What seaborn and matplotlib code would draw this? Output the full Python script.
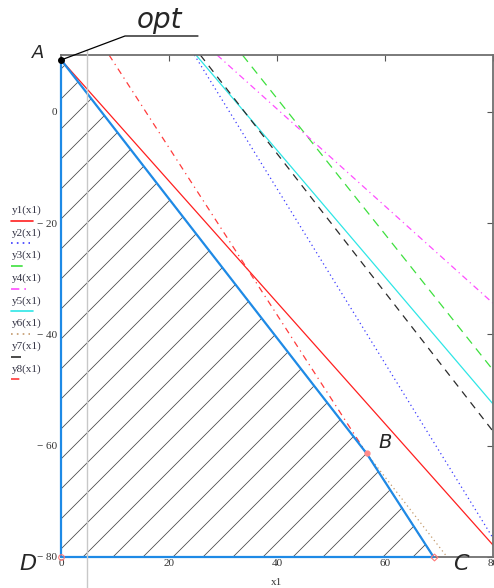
import numpy as np
import pandas as pd
import matplotlib
matplotlib.use("Agg")
import matplotlib.pyplot as plt
from matplotlib.lines import Line2D
from matplotlib.patches import Polygon
import seaborn as sns

# ===============================
# DATA
# ===============================
names = ["y1(x1)", "y2(x1)", "y3(x1)", "y4(x1)",
         "y5(x1)", "y6(x1)", "y7(x1)", "y8(x1)"]
x_start = [0.0, 24.7, 33.6, 28.9, 25.0, 0.0, 25.8, 8.9]
y_start = [9.35, 10.2, 10.2, 10.2, 10.2, 9.35, 10.2, 10.2]
x_end = [80.0, 80.0, 80.0, 80.0, 80.0, 71.5, 80.0, 69.0]
y_end = [-77.85, -76.6, -46.4, -34.4, -52.5, -80.0, -57.4, -80.0]

# feasible region A-B-C-D
region_x = [0.0, 56.6, 69.0, 0.0]
region_y = [9.35, -61.4, -80.0, -80.0]
region_labels = ["A", "B", "C", "D"]

x_ticks = [0, 20, 40, 60, 80]
y_ticks = [0, -20, -40, -60, -80]

# ===============================
# STYLE
# ===============================
colors = ["#ff1f1f", "#3a3aff", "#3ee03e", "#ff4dff",
          "#2ee6e6", "#c49a6c", "#2b2b2b", "#ff3b3b"]
dashes = ["", (1, 2.5), (7, 5), (5, 3, 1, 3),
          "", (1, 2.5), (6, 5), (5, 3.5, 1, 3.5)]
sample_len = [22, 19, 15, 16, 22, 19, 15, 14]
BLUE = "#1e8ae6"
W, H = 494, 588


def fx(px):
    return px / W


def fy(py):
    return 1 - py / H


sns.set_style("white")
plt.rcParams["font.family"] = ["Liberation Serif", "DejaVu Serif"]

fig = plt.figure(figsize=(W / 100, H / 100), dpi=100)
ax = fig.add_axes([fx(61), 31 / H, 432 / W, 502 / H])

df = pd.DataFrame({
    "x1": [v for pair in zip(x_start, x_end) for v in pair],
    "y": [v for pair in zip(y_start, y_end) for v in pair],
    "line": [n for n in names for _ in range(2)],
})

sns.lineplot(data=df, x="x1", y="y", hue="line", style="line",
             palette=dict(zip(names, colors)), dashes=dict(zip(names, dashes)),
             estimator=None, sort=False, legend=False, linewidth=0.9, ax=ax)

ax.set_xlim(0, 80)
ax.set_ylim(-80, 10.2)

# ===============================
# Hatched feasible region
# ===============================
poly = Polygon(np.column_stack([region_x, region_y]), closed=True,
               facecolor="none", edgecolor="none")
ax.add_patch(poly)
sx, sy = 432 / 80, 502 / 90.2
step = 30 / sx
for x0 in np.arange(4.07 - 20 * step, 80, step):
    ln, = ax.plot([x0, x0 + 120], [-80, -80 + 120 * sx / sy],
                  color="#444444", lw=0.55, zorder=3)
    ln.set_clip_path(poly)

ax.plot(region_x + region_x[:1], region_y + region_y[:1],
        color=BLUE, lw=1.6, zorder=5, clip_on=False)

# corner markers
ax.plot(region_x[0], region_y[0], "o", color="black", ms=4, zorder=6, clip_on=False)
ax.plot(region_x[1], region_y[1], "o", color="#ff8a8a", ms=3.5, zorder=6, clip_on=False)
ax.plot(region_x[2], region_y[2], "D", mfc="none", mec="#ff7a7a", ms=3.5,
        mew=0.8, zorder=6, clip_on=False)
ax.plot(region_x[3], region_y[3], "o", mfc="none", mec="#ff7a7a", ms=4,
        mew=0.8, zorder=6, clip_on=False)

# ===============================
# Axes look (Mathcad-like)
# ===============================
ax.set_xticks(x_ticks)
ax.set_yticks(y_ticks)
ax.set_yticklabels([f"\u2212 {abs(v)}" if v < 0 else str(v) for v in y_ticks])
ax.tick_params(direction="in", length=4, width=0.8, color="#555555",
               top=True, right=True, labelsize=8, labelcolor="#333333")
ax.tick_params(axis="x", pad=1.5)
ax.tick_params(axis="y", pad=3)
for s in ax.spines.values():
    s.set_color("#707070")
    s.set_linewidth(1.3)
ax.set_xlabel("x1", fontsize=8, color="#333333", labelpad=7)
ax.set_ylabel("")

# Mathcad-style legend at the left
for i, name in enumerate(names):
    ty = 210 + i * 22.7
    fig.text(fx(12), fy(ty), name, fontsize=8, color="#333344",
             ha="left", va="center")
    d = dashes[i]
    fig.add_artist(Line2D([fx(11), fx(11 + sample_len[i])], [fy(ty + 10.5)] * 2,
                          color=colors[i], lw=1.2,
                          linestyle="-" if d == "" else (0, d)))

# cursor line
fig.add_artist(Line2D([fx(87), fx(87)], [fy(50), fy(588)],
                      color="#c8c8c8", lw=1))

# vertex letters and "opt" callout
letter_pos = {"A": (38, 53, 13), "B": (385, 443, 14),
              "C": (461, 564, 16), "D": (28, 564, 16)}
for lab in region_labels:
    px, py, fs = letter_pos[lab]
    fig.text(fx(px), fy(py), lab, fontsize=fs, style="italic",
             family="DejaVu Sans", ha="center", va="center")
fig.text(fx(159), fy(20), "opt", fontsize=20, style="italic",
         family="DejaVu Sans", ha="center", va="center")
fig.add_artist(Line2D([fx(61), fx(125), fx(198)], [fy(60), fy(36), fy(36)],
                      color="black", lw=0.9))

plt.savefig("out.png", dpi=100)
plt.close()
